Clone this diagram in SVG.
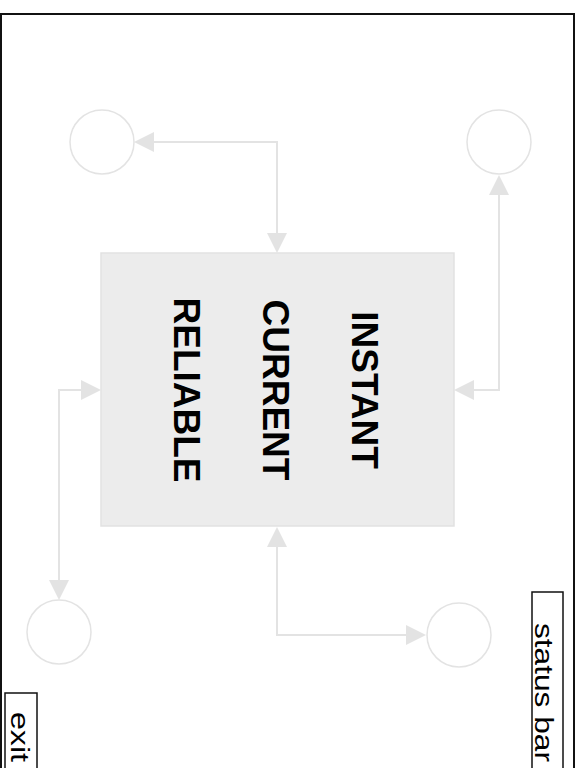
<svg xmlns="http://www.w3.org/2000/svg" width="580" height="768" viewBox="0 0 580 768">
<style>
.frame{fill:none;stroke:#111;stroke-width:2}
.box{fill:#fff;stroke:#111;stroke-width:1.5}
.lbl{font-family:"Liberation Sans",Arial,sans-serif;font-size:25px;fill:#000}
.big{font-family:"Liberation Sans",Arial,sans-serif;font-size:37px;font-weight:bold;fill:#000;text-anchor:middle}
.node{fill:#fff;stroke:#e3e3e3;stroke-width:1.5}
.core{fill:#ececec;stroke:#e2e2e2;stroke-width:1.5}
.conn{fill:none;stroke:#e3e3e3;stroke-width:2}
.head{fill:#e3e3e3}
</style>
<rect x="1" y="14" width="573" height="780" class="frame"/>
<g id="core">
<rect x="101" y="253" width="353" height="273" class="core"/>
<text class="big" transform="translate(352,390) rotate(90)">INSTANT</text>
<text class="big" transform="translate(263,390) rotate(90)">CURRENT</text>
<text class="big" transform="translate(174,390) rotate(90)">RELIABLE</text>
</g>
<g id="node-tl"><circle cx="102" cy="142" r="32" class="node"/></g>
<g id="node-tr"><circle cx="499" cy="142" r="32" class="node"/></g>
<g id="node-bl"><circle cx="59" cy="632" r="32" class="node"/></g>
<g id="node-br"><circle cx="459" cy="635" r="32" class="node"/></g>
<g id="connectors">
<polyline points="154,142 277,142 277,233" class="conn"/>
<polygon points="134,142 154,132 154,152" class="head"/>
<polygon points="277,253 267,233 287,233" class="head"/>
<polyline points="474,390 499,390 499,195" class="conn"/>
<polygon points="454,390 474,380 474,400" class="head"/>
<polygon points="499,175 489,195 509,195" class="head"/>
<polyline points="81,390 59,390 59,580" class="conn"/>
<polygon points="101,390 81,380 81,400" class="head"/>
<polygon points="59,600 49,580 69,580" class="head"/>
<polyline points="277,547 277,635 406,635" class="conn"/>
<polygon points="277,527 267,547 287,547" class="head"/>
<polygon points="426,635 406,625 406,645" class="head"/>
</g>
<g id="status-bar">
<rect x="532" y="592" width="31" height="200" class="box"/>
<text class="lbl" transform="translate(535,623) rotate(90)" textLength="139" lengthAdjust="spacingAndGlyphs">status bar</text>
</g>
<g id="exit">
<rect x="5" y="693" width="32" height="100" class="box"/>
<text class="lbl" transform="translate(11,712) rotate(90)" textLength="50" lengthAdjust="spacingAndGlyphs">exit</text>
</g>
</svg>
